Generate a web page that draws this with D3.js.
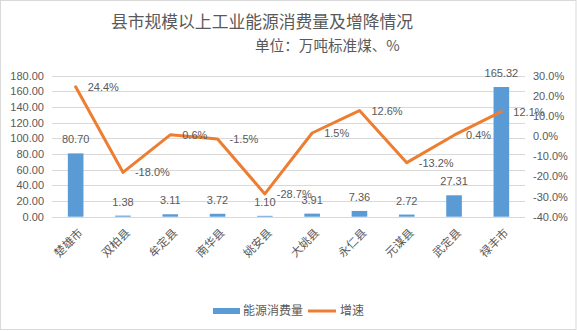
<!DOCTYPE html>
<html>
<head>
<meta charset="utf-8">
<script src="https://cdn.jsdelivr.net/npm/d3@7/dist/d3.min.js"></script>
<style>
  html, body { margin: 0; padding: 0; background: #fff; }
  svg { display: block; }
</style>
</head>
<body>
<svg id="chart" width="577" height="331"></svg>
<script>
// County-level energy consumption of industrial enterprises above designated size
const categories = ["楚雄市", "双柏县", "牟定县", "南华县", "姚安县", "大姚县", "永仁县", "元谋县", "武定县", "禄丰市"];
const consumption = [80.70, 1.38, 3.11, 3.72, 1.10, 3.91, 7.36, 2.72, 27.31, 165.32];
const growth = [24.4, -18.0, 0.6, -1.5, -28.7, 1.5, 12.6, -13.2, 0.4, 12.1];
const leftTicks = [0, 20, 40, 60, 80, 100, 120, 140, 160, 180];
const rightTicks = [-40, -30, -20, -10, 0, 10, 20, 30];

const W = 577, H = 331;
const plot = { left: 52, right: 525, top: 75.5, bottom: 216.7 };
const textColor = "#595959";
const gridColor = "#d9d9d9";
const barColor = "#5B9BD5";
const lineColor = "#ED7D31";
const numFont = "'Liberation Sans', Arial, sans-serif";
const cjkFont = "'Noto Sans CJK SC', 'Noto Sans', sans-serif";

// plain hyphen-minus formatting
const fmt2 = d => d.toFixed(2);
const pct1 = d => d.toFixed(1) + "%";

const svg = d3.select("#chart");

// outer frame
svg.append("rect")
  .attr("x", 0.5).attr("y", 0.5)
  .attr("width", W - 1.5).attr("height", H - 2)
  .attr("fill", "#fff").attr("stroke", gridColor);

// scales
const x = d3.scaleBand().domain(categories).range([plot.left, plot.right]).padding(0);
const yL = d3.scaleLinear().domain([0, 180]).range([plot.bottom, plot.top]);
const yR = d3.scaleLinear().domain([-40, 30]).range([plot.bottom, plot.top]);

// gridlines
svg.append("g").selectAll("line").data(leftTicks).join("line")
  .attr("x1", plot.left).attr("x2", plot.right)
  .attr("y1", d => Math.round(yL(d)) + 0.5).attr("y2", d => Math.round(yL(d)) + 0.5)
  .attr("stroke", gridColor).attr("stroke-width", 1);

// left axis
const axL = d3.axisLeft(yL).tickValues(leftTicks).tickFormat(fmt2).tickSize(0).tickPadding(8);
const gL = svg.append("g").attr("transform", `translate(${plot.left},0)`).call(axL);
gL.select(".domain").remove();
gL.selectAll("text").attr("fill", textColor).style("font-family", numFont).style("font-size", "11px");

// right axis
const axR = d3.axisRight(yR).tickValues(rightTicks).tickFormat(pct1).tickSize(0).tickPadding(8);
const gR = svg.append("g").attr("transform", `translate(${plot.right},0)`).call(axR);
gR.select(".domain").remove();
gR.selectAll("text").attr("fill", textColor).style("font-family", numFont).style("font-size", "11px");

// bars
const barW = x.bandwidth() * 0.33;
svg.append("g").selectAll("rect").data(consumption).join("rect")
  .attr("x", (d, i) => x(categories[i]) + x.bandwidth() / 2 - barW / 2)
  .attr("y", d => yL(d))
  .attr("width", barW)
  .attr("height", d => yL(0) - yL(d))
  .attr("fill", barColor);

// bar value labels
svg.append("g").selectAll("text").data(consumption).join("text")
  .attr("x", (d, i) => x(categories[i]) + x.bandwidth() / 2)
  .attr("y", d => yL(d) - 10)
  .attr("text-anchor", "middle")
  .attr("fill", textColor)
  .style("font-family", numFont).style("font-size", "11px")
  .text(fmt2);

// growth line
const cx = (d, i) => x(categories[i]) + x.bandwidth() / 2;
const line = d3.line().x(cx).y(d => yR(d));
svg.append("path").datum(growth)
  .attr("d", line)
  .attr("fill", "none")
  .attr("stroke", lineColor)
  .attr("stroke-width", 3)
  .attr("stroke-linejoin", "round")
  .attr("stroke-linecap", "round");

// growth labels, right of each point
svg.append("g").selectAll("text").data(growth).join("text")
  .attr("x", (d, i) => cx(d, i) + 12)
  .attr("y", d => yR(d))
  .attr("dy", "0.36em")
  .attr("fill", textColor)
  .style("font-family", numFont).style("font-size", "11px")
  .text(pct1);

// category axis labels, rotated
svg.append("g").selectAll("text").data(categories).join("text")
  .attr("transform", d => `translate(${x(d) + x.bandwidth() / 2 + 5},${plot.bottom + 14}) rotate(-45)`)
  .attr("text-anchor", "end")
  .attr("dy", "0.35em")
  .attr("fill", textColor)
  .style("font-family", cjkFont).style("font-size", "11.5px")
  .text(d => d);

// titles
svg.append("text")
  .attr("x", 262).attr("y", 28)
  .attr("text-anchor", "middle")
  .attr("fill", textColor)
  .style("font-family", cjkFont).style("font-size", "16.8px")
  .text("县市规模以上工业能源消费量及增降情况");
svg.append("text")
  .attr("x", 255).attr("y", 51)
  .attr("fill", textColor)
  .style("font-family", cjkFont).style("font-size", "14.6px")
  .text("单位：万吨标准煤、%");

// legend
const lg = svg.append("g");
lg.append("rect").attr("x", 213).attr("y", 308).attr("width", 27).attr("height", 6).attr("fill", barColor);
lg.append("text").attr("x", 243).attr("y", 311).attr("dy", "0.35em")
  .attr("fill", textColor).style("font-family", cjkFont).style("font-size", "12px").text("能源消费量");
lg.append("line").attr("x1", 308).attr("x2", 336).attr("y1", 311).attr("y2", 311)
  .attr("stroke", lineColor).attr("stroke-width", 3);
lg.append("text").attr("x", 340).attr("y", 311).attr("dy", "0.35em")
  .attr("fill", textColor).style("font-family", cjkFont).style("font-size", "12px").text("增速");
</script>
</body>
</html>
